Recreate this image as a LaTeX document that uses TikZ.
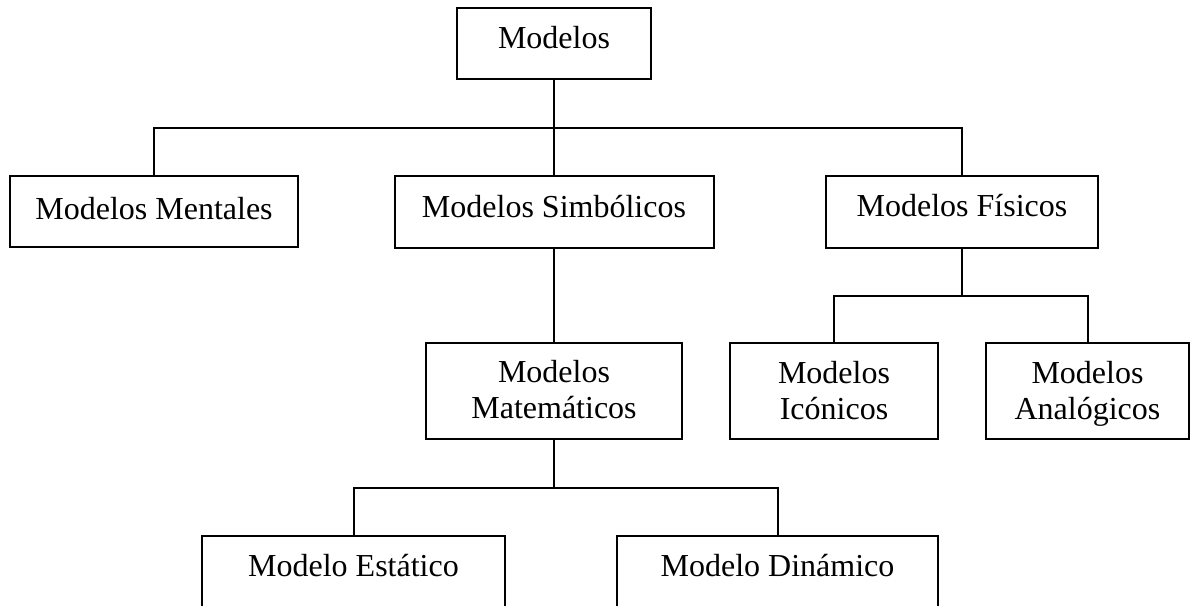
\documentclass[tikz,border=0pt]{standalone}
\usepackage{fontspec}
\setmainfont{Liberation Serif}
\begin{document}
\begin{tikzpicture}[x=0.5pt,y=-0.5pt,
  box/.style={draw=black,line width=1pt,rectangle,inner sep=0pt,fill=white},
  txt/.style={inner sep=0pt,align=center,font=\fontsize{16}{18}\selectfont},
  link/.style={draw=black,line width=1pt}]
\clip (0,0) rectangle (1191,606);
\fill[white] (0,0) rectangle (1191,606);

% boxes
\node[box,minimum width=97pt,minimum height=35.5pt] (top)  at (554,43.5) {};
\node[box,minimum width=144pt,minimum height=35.5pt] (ment) at (154,211.5) {};
\node[box,minimum width=159.5pt,minimum height=36pt] (symb) at (554,212) {};
\node[box,minimum width=136pt,minimum height=36pt] (phys) at (962,212) {};
\node[box,minimum width=128pt,minimum height=48pt] (mat)  at (554,391) {};
\node[box,minimum width=104pt,minimum height=48pt] (icon) at (834,391) {};
\node[box,minimum width=101.5pt,minimum height=48pt] (anal) at (1087.5,391) {};
\node[box,minimum width=151.5pt,minimum height=52pt] (est)  at (353.5,588) {};
\node[box,minimum width=160.5pt,minimum height=52pt] (din)  at (777.5,588) {};

% labels (multi-line labels are anchored on their last baseline)
\node[txt,anchor=base] (ltop)  at (554,48) {Modelos};
\node[txt,anchor=base] (lment) at (154,219) {Modelos Mentales};
\node[txt,anchor=base] (lsymb) at (554,217) {Modelos Simbólicos};
\node[txt,anchor=base] (lphys) at (962,216) {Modelos Físicos};
\node[txt,anchor=base] (lmat)  at (554,418) {Modelos\\Matemáticos};
\node[txt,anchor=base] (licon) at (834,419) {Modelos\\Icónicos};
\node[txt,anchor=base] (lanal) at (1087.5,419) {Modelos\\Analógicos};
\node[txt,anchor=base] (lest)  at (353.5,576) {Modelo Estático};
\node[txt,anchor=base] (ldin)  at (777.5,576) {Modelo Dinámico};

% junctions
\coordinate (j1) at (554,128);
\coordinate (j2) at (962,296);
\coordinate (j3) at (554,488);

% connectors
\draw[link] (top.south) -- (j1);
\draw[link] (ment.north) |- (j1) -| (phys.north);
\draw[link] (j1) -- (symb.north);
\draw[link] (symb.south) -- (mat.north);
\draw[link] (phys.south) -- (j2);
\draw[link] (icon.north) |- (j2) -| (anal.north);
\draw[link] (mat.south) -- (j3);
\draw[link] (est.north) |- (j3) -| (din.north);
\end{tikzpicture}
\end{document}
